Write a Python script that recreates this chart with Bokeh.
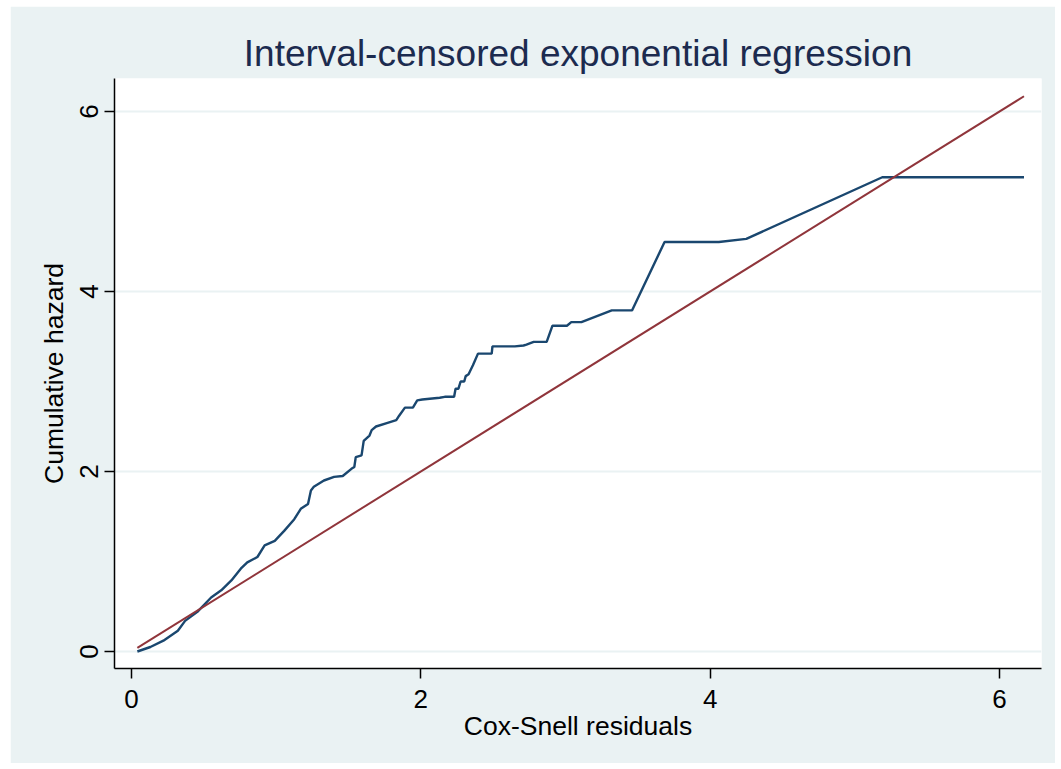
from bokeh.plotting import figure
from bokeh.models import Range1d, FixedTicker, Title
from bokeh.embed import file_html
from bokeh.resources import INLINE

# Cox-Snell residuals vs Nelson-Aalen cumulative hazard (blue)
cs_resid = [0.04, 0.13, 0.22, 0.32, 0.37, 0.455, 0.55, 0.62, 0.69, 0.755, 0.80, 0.87,
            0.92, 0.99, 1.055, 1.125, 1.17, 1.22, 1.24, 1.26, 1.33, 1.40, 1.46, 1.52,
            1.54, 1.55, 1.59, 1.605, 1.645, 1.66, 1.69, 1.77, 1.83, 1.85, 1.89, 1.945,
            1.975, 2.01, 2.13, 2.165, 2.23, 2.24, 2.26, 2.275, 2.30, 2.31, 2.33, 2.36,
            2.395, 2.49, 2.495, 2.65, 2.71, 2.73, 2.78, 2.87, 2.91, 3.01, 3.04, 3.11,
            3.32, 3.46, 3.685, 4.06, 4.25, 5.19, 6.17]
cum_hazard = [0.00, 0.05, 0.12, 0.23, 0.34, 0.44, 0.60, 0.68, 0.79, 0.92, 0.99, 1.05,
              1.18, 1.23, 1.34, 1.47, 1.585, 1.64, 1.79, 1.83, 1.90, 1.94, 1.95, 2.03,
              2.05, 2.16, 2.18, 2.34, 2.40, 2.46, 2.50, 2.54, 2.57, 2.62, 2.71, 2.71,
              2.79, 2.80, 2.82, 2.83, 2.83, 2.92, 2.92, 3.00, 3.00, 3.06, 3.08, 3.18,
              3.31, 3.31, 3.39, 3.39, 3.40, 3.41, 3.44, 3.44, 3.62, 3.62, 3.66, 3.66,
              3.79, 3.79, 4.55, 4.55, 4.585, 5.27, 5.27]

# reference line y = x (red)
ref_x = [0.04, 6.17]
ref_y = [0.04, 6.17]

x_ticks = [0, 2, 4, 6]
y_ticks = [0, 2, 4, 6]

BG = "#eaf2f3"
FONT = "Liberation Sans"

p = figure(width=1045, height=757,
           x_range=Range1d(-0.118, 6.291), y_range=Range1d(-0.189, 6.367),
           output_backend="svg", toolbar_location=None,
           background_fill_color="white", border_fill_color=BG,
           min_border_left=104, min_border_right=14,
           min_border_top=72, min_border_bottom=95)
p.margin = (6, 0, 0, 10)
p.outline_line_color = None

p.title = Title(text="Interval-censored exponential regression", align="center",
                text_font=FONT, text_font_size="37px", text_font_style="normal",
                text_color="#1c2b4f", standoff=10)

for ax in (p.xaxis[0], p.yaxis[0]):
    ax.major_label_text_font = FONT
    ax.major_label_text_font_size = "26px"
    ax.major_label_text_color = "black"
    ax.axis_label_text_font = FONT
    ax.axis_label_text_font_size = "26.5px"
    ax.axis_label_text_font_style = "normal"
    ax.axis_label_text_color = "black"
    ax.axis_line_color = "black"
    ax.axis_line_width = 1.5
    ax.major_tick_line_color = "black"
    ax.major_tick_line_width = 1.5
    ax.major_tick_out = 10
    ax.major_tick_in = 0
    ax.minor_tick_line_color = None

p.xaxis[0].ticker = FixedTicker(ticks=x_ticks)
p.yaxis[0].ticker = FixedTicker(ticks=y_ticks)
p.xaxis[0].axis_label = "Cox-Snell residuals"
p.yaxis[0].axis_label = "Cumulative hazard"
p.xaxis[0].major_label_standoff = 11
p.xaxis[0].axis_label_standoff = 0
p.yaxis[0].major_label_orientation = "vertical"
p.yaxis[0].major_label_standoff = 6
p.yaxis[0].axis_label_standoff = 9

p.xgrid.grid_line_color = None
p.ygrid.grid_line_color = BG
p.ygrid.grid_line_width = 2

p.line(cs_resid, cum_hazard, line_color="#1a476f", line_width=2.4)
p.line(ref_x, ref_y, line_color="#90353b", line_width=2)

open("out.html", "w").write(file_html(p, INLINE))
